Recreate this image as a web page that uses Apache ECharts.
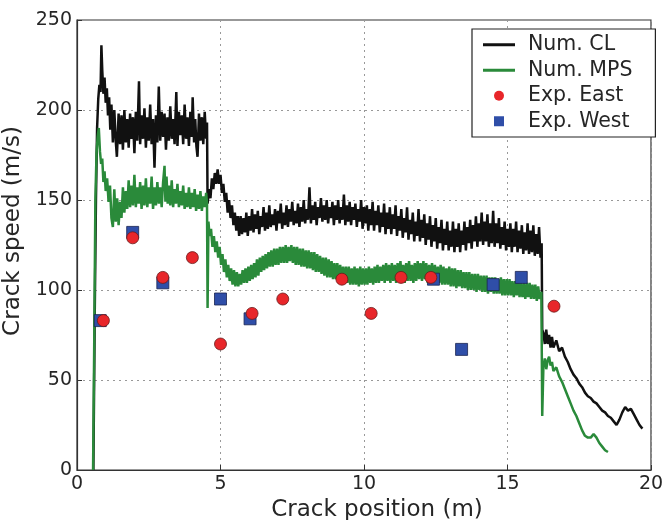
<!DOCTYPE html>
<html>
<head>
<meta charset="utf-8">
<script src="https://cdn.jsdelivr.net/npm/echarts@6/dist/echarts.min.js"></script>
<style>
  html, body { margin: 0; padding: 0; background: #fff; }
  #chart { width: 665px; height: 520px; }
</style>
</head>
<body>
<div id="chart"></div>
<script>
// Num. CL curve [crack position (m), crack speed (m/s)]
const numCL = [
  [0.57,0],[0.62,90],[0.66,150],[0.70,190],[0.74,206],[0.78,214],[0.82,210],[0.85,236],[0.88,222],[0.92,209],
  [0.96,218],[1.0,204],[1.04,212],[1.08,197],[1.12,207],[1.16,189],[1.2,203],[1.25,182],
  [1.30,200],[1.35,183],[1.39,174],[1.45,198],[1.50,181],[1.55,197],[1.60,178],[1.65,200],[1.70,182],[1.75,195],
  [1.80,179],[1.85,198],[1.90,184],[1.95,196],[2.00,176],[2.05,199],[2.10,183],[2.16,216],[2.20,181],[2.25,197],
  [2.30,184],[2.35,201],[2.40,179],[2.45,196],[2.50,183],[2.55,203],[2.60,181],[2.65,195],[2.70,168],[2.75,197],
  [2.80,182],[2.85,213],[2.90,183],[2.95,199],[3.00,185],[3.05,198],[3.10,178],[3.15,196],[3.20,183],[3.25,202],
  [3.30,184],[3.35,195],[3.40,181],[3.46,210],[3.50,180],[3.55,199],[3.60,186],[3.65,197],[3.70,181],[3.75,203],
  [3.80,184],[3.85,196],[3.90,180],[3.95,199],[4.00,185],[4.03,207],[4.08,182],[4.12,195],[4.16,180],[4.20,174],
  [4.25,198],[4.30,183],[4.35,196],[4.40,181],[4.45,199],[4.50,184],[4.53,193],
  [4.55,148],[4.6,156],[4.65,151],[4.7,162],[4.75,156],[4.8,165],[4.85,159],[4.9,167],[4.95,159],[5.0,164],
  [5.05,154],[5.1,159],[5.15,149],[5.2,154],[5.25,143],[5.3,150],[5.35,140],[5.4,147],[5.45,136],[5.5,143],
  [5.55,133],[5.6,141],[5.65,130],
  [5.70,141],[5.75,131],[5.80,140],[5.85,132],[5.90,143],[5.95,130],[6.00,141],[6.05,133],[6.10,145],[6.15,132],
  [6.20,142],[6.25,134],[6.30,144],[6.35,131],[6.40,141],[6.45,135],[6.50,146],[6.55,133],[6.60,143],[6.65,134],
  [6.70,147],[6.75,135],[6.80,142],[6.85,136],[6.90,145],[6.95,133],[7.00,144],[7.05,137],[7.10,148],[7.15,134],
  [7.20,143],[7.25,136],[7.30,147],[7.35,135],[7.40,145],[7.45,138],[7.50,149],[7.55,136],[7.60,144],[7.65,137],
  [7.70,148],[7.75,135],[7.80,146],[7.85,138],[7.90,150],[7.95,137],[8.00,145],[8.05,139],[8.10,157],[8.15,137],
  [8.20,147],[8.25,139],[8.30,149],[8.35,136],[8.40,146],[8.45,140],[8.50,151],[8.55,138],[8.60,147],[8.65,139],
  [8.70,150],[8.75,137],[8.80,146],[8.85,140],[8.90,149],[8.95,136],[9.00,147],[9.05,139],[9.10,150],[9.15,137],
  [9.20,146],[9.25,139],[9.30,153],[9.35,136],[9.40,147],[9.45,138],[9.50,149],[9.55,136],[9.60,146],[9.65,139],
  [9.70,148],[9.75,135],[9.80,145],[9.85,138],[9.90,150],[9.95,134],[10.00,146],[10.05,137],[10.10,147],[10.15,133],
  [10.20,145],[10.25,136],[10.30,149],[10.35,133],[10.40,144],[10.45,136],[10.50,147],[10.55,132],[10.60,143],[10.65,135],
  [10.70,148],[10.75,131],[10.80,143],[10.85,134],[10.90,146],[10.95,131],[11.00,142],[11.05,134],[11.10,147],[11.15,130],
  [11.20,141],[11.25,133],[11.30,145],[11.35,129],[11.40,140],[11.45,132],[11.50,146],[11.55,128],[11.60,139],[11.65,131],
  [11.70,143],[11.75,127],[11.80,138],[11.85,130],[11.90,145],[11.95,127],[12.00,139],[12.05,129],[12.10,142],[12.15,125],
  [12.20,137],[12.25,128],[12.30,141],[12.35,124],[12.40,136],[12.45,127],[12.50,140],[12.55,123],[12.60,135],[12.65,126],
  [12.70,139],[12.75,122],[12.80,134],[12.85,125],[12.90,138],[12.95,122],[13.00,133],[13.05,124],[13.10,138],[13.15,121],
  [13.20,134],[13.25,124],[13.30,137],[13.35,121],[13.40,133],[13.45,125],[13.50,138],[13.55,122],[13.60,135],[13.65,126],
  [13.70,139],[13.75,123],[13.80,136],[13.85,127],[13.90,141],[13.95,124],[14.00,137],[14.05,127],[14.10,143],[14.15,125],
  [14.20,138],[14.25,127],[14.30,142],[14.35,124],[14.40,137],[14.45,126],[14.50,144],[14.55,124],[14.60,137],[14.65,126],
  [14.70,140],[14.75,123],[14.80,135],[14.85,125],[14.90,138],[14.95,122],[15.00,134],[15.05,124],[15.10,137],[15.15,121],
  [15.20,134],[15.25,124],[15.30,138],[15.35,121],[15.40,133],[15.45,123],[15.50,136],[15.55,120],[15.60,132],[15.65,122],
  [15.70,137],[15.75,120],[15.80,133],[15.85,121],[15.90,136],[15.95,119],[16.00,131],[16.05,120],[16.10,135],[16.15,118],
  [16.19,126],[16.21,78],
  [16.25,76],[16.3,70],[16.35,78],[16.4,70],[16.45,75],[16.5,68],[16.55,74],[16.6,68],[16.7,72],[16.8,66],
  [16.9,68],[17.0,63],[17.1,60],[17.2,56],[17.3,53],[17.4,51],[17.5,48],[17.6,46],[17.7,43],[17.8,41],
  [17.9,40],[18.0,38],[18.1,37],[18.2,35],[18.3,33],[18.4,32],[18.5,30],[18.6,29],[18.7,27],[18.8,25],
  [18.9,28],[19.0,32],[19.1,35],[19.2,33],[19.3,34],[19.4,31],[19.5,28],[19.6,25],[19.7,23]
];

// Num. MPS curve
const numMPS = [
  [0.56,0],[0.6,70],[0.64,150],[0.68,176],[0.72,185],[0.76,190],[0.8,177],[0.84,170],[0.88,173],[0.92,160],
  [0.96,166],[1.0,155],[1.05,162],[1.1,149],[1.15,158],[1.2,140],[1.25,135],
  [1.30,156],[1.35,138],[1.40,151],[1.45,136],[1.50,149],[1.55,140],[1.60,157],[1.65,143],[1.70,155],[1.75,145],
  [1.80,161],[1.85,146],[1.90,158],[1.95,147],[2.00,164],[2.05,146],[2.10,157],[2.15,148],[2.20,160],[2.25,145],
  [2.30,158],[2.35,147],[2.40,162],[2.45,146],[2.50,157],[2.55,148],[2.60,163],[2.65,145],[2.70,157],[2.75,147],
  [2.80,160],[2.85,148],[2.90,157],[2.95,146],[3.00,160],[3.05,169],[3.08,149],[3.12,163],[3.16,148],[3.20,158],
  [3.25,147],[3.30,161],[3.35,146],[3.40,156],[3.45,148],[3.50,159],[3.55,146],[3.60,155],[3.65,147],[3.70,158],
  [3.75,145],[3.80,154],[3.85,146],[3.90,157],[3.95,145],[4.00,154],[4.05,146],[4.10,156],[4.15,144],[4.20,153],
  [4.25,145],[4.30,155],[4.35,144],[4.40,152],[4.45,146],[4.50,154],[4.53,148],
  [4.55,90],[4.58,138],[4.62,130],[4.67,134],[4.72,124],[4.77,130],[4.82,121],
  [4.87,127],[4.92,118],[4.97,124],[5.02,114],[5.07,120],[5.12,110],[5.17,117],[5.22,107],[5.27,114],[5.32,105],
  [5.37,112],[5.42,103],[5.47,111],[5.52,102],[5.57,110],[5.62,102],[5.67,109],[5.72,103],[5.77,111],[5.82,104],
  [5.87,112],[5.92,104],[5.97,113],[6.02,105],[6.07,114],[6.12,106],[6.17,115],[6.22,107],[6.27,117],[6.32,108],
  [6.37,118],[6.42,110],[6.47,119],[6.52,111],[6.57,120],[6.62,112],[6.67,121],[6.72,113],[6.77,122],[6.82,113],
  [6.87,123],[6.92,114],[6.97,123],[7.02,114],[7.07,124],[7.12,115],[7.17,124],[7.22,115],[7.27,125],[7.32,115],
  [7.37,124],[7.42,116],[7.47,125],[7.52,115],[7.57,124],[7.62,114],[7.67,124],[7.72,114],[7.77,123],[7.82,113],
  [7.87,123],[7.92,113],[7.97,122],[8.02,112],[8.07,122],[8.12,112],[8.17,121],[8.22,111],[8.27,121],[8.32,110],
  [8.37,120],[8.42,110],[8.47,119],[8.52,109],[8.57,118],[8.62,108],[8.67,118],[8.72,107],[8.77,117],[8.82,107],
  [8.87,116],[8.92,106],[8.97,115],[9.02,106],[9.07,115],[9.12,105],[9.17,114],[9.22,105],[9.27,113],[9.32,104],
  [9.37,113],[9.42,104],[9.47,113],[9.52,103],[9.57,112],[9.62,103],[9.67,113],[9.72,103],[9.77,112],[9.82,102],
  [9.87,113],[9.92,103],[9.97,112],[10.02,103],[10.07,112],[10.12,103],[10.17,113],[10.22,104],[10.27,112],[10.32,103],
  [10.37,113],[10.42,104],[10.47,114],[10.52,104],[10.57,113],[10.62,105],[10.67,114],[10.72,104],[10.77,115],[10.82,105],
  [10.87,114],[10.92,104],[10.97,115],[11.02,105],[11.07,114],[11.12,104],[11.17,115],[11.22,105],[11.27,116],[11.32,105],
  [11.37,114],[11.42,104],[11.47,115],[11.52,105],[11.57,116],[11.62,105],[11.67,114],[11.72,104],[11.77,115],[11.82,105],
  [11.87,116],[11.92,106],[11.97,115],[12.02,105],[12.07,116],[12.12,106],[12.17,115],[12.22,104],[12.27,114],[12.32,105],
  [12.37,115],[12.42,104],[12.47,114],[12.52,104],[12.57,113],[12.62,104],[12.67,114],[12.72,103],[12.77,113],[12.82,103],
  [12.87,112],[12.92,103],[12.97,113],[13.02,102],[13.07,112],[13.12,102],[13.17,112],[13.22,101],[13.27,111],[13.32,102],
  [13.37,111],[13.42,101],[13.47,110],[13.52,101],[13.57,110],[13.62,100],[13.67,110],[13.72,100],[13.77,109],[13.82,100],
  [13.87,109],[13.92,99],[13.97,109],[14.02,100],[14.07,108],[14.12,99],[14.17,108],[14.22,99],[14.27,108],[14.32,98],
  [14.37,107],[14.42,99],[14.47,107],[14.52,98],[14.57,107],[14.62,98],[14.67,106],[14.72,98],[14.77,107],[14.82,97],
  [14.87,106],[14.92,97],[14.97,106],[15.02,97],[15.07,106],[15.12,97],[15.17,105],[15.22,96],[15.27,105],[15.32,97],
  [15.37,105],[15.42,96],[15.47,104],[15.52,96],[15.57,104],[15.62,95],[15.67,104],[15.72,96],[15.77,104],[15.82,95],
  [15.87,103],[15.92,95],[15.97,103],[16.02,94],[16.07,102],[16.12,95],[16.18,99],[16.21,30],[16.25,57],[16.3,62],
  [16.35,56],[16.4,61],[16.45,63],[16.5,58],[16.55,60],[16.6,55],[16.7,57],[16.8,52],[16.9,49],[17.0,45],
  [17.1,41],[17.2,37],[17.3,33],[17.4,30],[17.5,26],[17.6,22],[17.7,19],[17.8,18],[17.9,18],[18.0,20],
  [18.05,21],[18.1,18],[18.2,15],[18.3,13],[18.4,11],[18.5,10]
];

// experimental points
const expEast = [
  [0.92,83],[1.94,129],[2.99,107],[4.02,118],[5.0,70],[6.1,87],[7.17,95],
  [9.23,106],[10.25,87],[11.29,107],[12.33,107],[16.62,91]
];
const expWest = [
  [0.81,83],[1.94,132],[2.99,104],[5.0,95],[6.03,84],[12.42,106],
  [13.4,67],[14.5,103],[15.48,107]
];

const xTicks = { min: 0, max: 20, interval: 5 };
const yTicks = { min: 0, max: 250, interval: 50 };

const chartDom = document.getElementById('chart');
const myChart = echarts.init(chartDom, null, { renderer: 'canvas' });

const font = '"DejaVu Sans", sans-serif';
const textColor = '#262626';
const lineIcon = 'path://M0,0H32V3H0Z';
const squareIcon = 'path://M0,0H10V10H0Z';

const option = {
  animation: false,
  backgroundColor: '#fff',
  grid: {
    left: 77,
    right: 14,
    top: 20,
    bottom: 50,
    outerBoundsMode: 'none',
    containLabel: false,
    show: true,
    borderColor: '#333',
    borderWidth: 1.2
  },
  legend: {
    orient: 'vertical',
    left: 472,
    top: 29,
    padding: [5, 23, 5, 11],
    borderColor: '#222',
    borderWidth: 1.2,
    backgroundColor: '#fff',
    itemWidth: 32,
    itemHeight: 10,
    itemGap: 4,
    textStyle: {
      fontFamily: font,
      fontSize: 20.5,
      color: textColor,
      lineHeight: 21.5,
      padding: [0, 0, 0, 8]
    },
    data: [
      { name: 'Num. CL', icon: lineIcon, itemStyle: { color: '#111' } },
      { name: 'Num. MPS', icon: lineIcon, itemStyle: { color: '#2a8a3a' } },
      { name: 'Exp. East', icon: 'circle', itemStyle: { borderWidth: 0 } },
      { name: 'Exp. West', icon: squareIcon, itemStyle: { borderWidth: 0 } }
    ]
  },
  xAxis: {
    type: 'value',
    min: xTicks.min,
    max: xTicks.max,
    interval: xTicks.interval,
    name: 'Crack position (m)',
    nameLocation: 'middle',
    nameGap: 27,
    nameTextStyle: { fontFamily: font, fontSize: 23, color: textColor, padding: [0, 0, 0, 26] },
    axisLine: { show: true, lineStyle: { color: '#333', width: 1.2 } },
    axisTick: { show: true, inside: true, length: 5, lineStyle: { color: '#333' } },
    axisLabel: { fontFamily: font, fontSize: 19, color: textColor, margin: 5 },
    splitLine: { show: true, lineStyle: { color: '#999', type: [2, 4], width: 1 } }
  },
  yAxis: {
    type: 'value',
    min: yTicks.min,
    max: yTicks.max,
    interval: yTicks.interval,
    name: 'Crack speed (m/s)',
    nameLocation: 'middle',
    nameGap: 45,
    nameTextStyle: { fontFamily: font, fontSize: 23, color: textColor, padding: [0, 0, 0, 28] },
    axisLine: { show: true, lineStyle: { color: '#333', width: 1.2 } },
    axisTick: { show: true, inside: true, length: 5, lineStyle: { color: '#333' } },
    axisLabel: { fontFamily: font, fontSize: 19, color: textColor, margin: 5 },
    splitLine: { show: true, lineStyle: { color: '#999', type: [2, 4], width: 1 } }
  },
  series: [
    {
      name: 'Num. CL',
      type: 'line',
      data: numCL,
      symbol: 'none',
      z: 2,
      lineStyle: { color: '#111', width: 2.5 },
      itemStyle: { color: '#111' }
    },
    {
      name: 'Num. MPS',
      type: 'line',
      data: numMPS,
      symbol: 'none',
      z: 3,
      lineStyle: { color: '#2a8a3a', width: 2.5 },
      itemStyle: { color: '#2a8a3a' }
    },
    {
      name: 'Exp. East',
      type: 'scatter',
      data: expEast,
      symbol: 'circle',
      symbolSize: 12,
      z: 5,
      itemStyle: { color: '#e8262a', borderColor: '#6a1a1a', borderWidth: 0.8, opacity: 1 }
    },
    {
      name: 'Exp. West',
      type: 'scatter',
      data: expWest,
      symbol: 'rect',
      symbolSize: 12,
      z: 4,
      itemStyle: { color: '#2f4ea8', borderColor: '#1a2550', borderWidth: 0.8, opacity: 1 }
    }
  ]
};

myChart.setOption(option);
</script>
</body>
</html>
